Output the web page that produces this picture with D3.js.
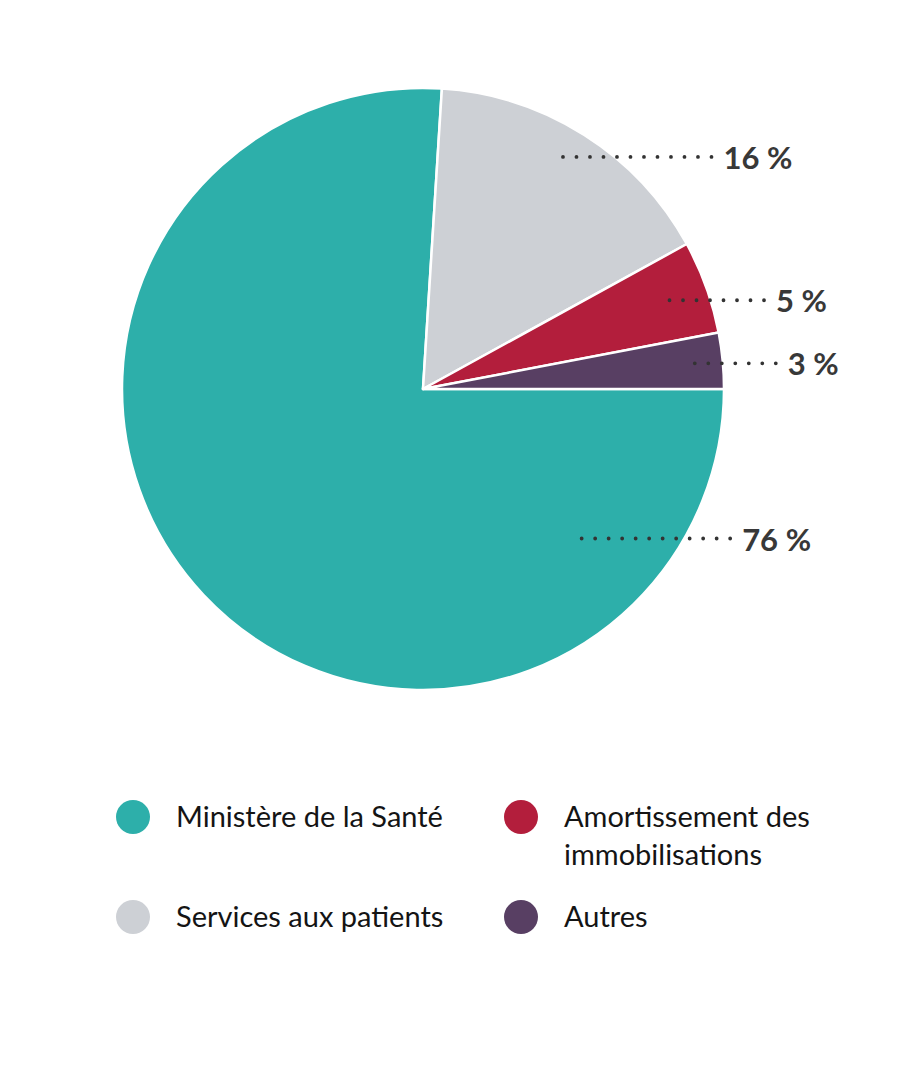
<!DOCTYPE html>
<html>
<head>
<meta charset="utf-8">
<script src="https://cdnjs.cloudflare.com/ajax/libs/d3/7.8.5/d3.min.js"></script>
<style>
  body { margin: 0; background: #fff; }
  svg { display: block; font-family: Lato, "Noto Sans", sans-serif; }
</style>
</head>
<body>
<svg width="900" height="1066"></svg>
<script>
// data
const categories = ["Ministère de la Santé", "Services aux patients", "Amortissement des immobilisations", "Autres"];
const values = [76, 16, 5, 3];
const labels = ["76 %", "16 %", "5 %", "3 %"];
const colors = ["#2dafaa", "#cdd0d5", "#b31e3c", "#583f63"];

const svg = d3.select("svg");
const cx = 423, cy = 389, radius = 301;

// label layout: anchor angle (deg, null = slice middle), anchor radius, dotted length
const labelLayout = [
  { angle: 133.3, r: 218, len: 148.5 },
  { angle: 31.1, r: 271, len: 148.5 },
  { angle: null, r: 262, len: 94.5 },
  { angle: null, r: 273, len: 81 }
];

const pie = d3.pie()
  .sort(null)
  .value(d => d)
  .startAngle(Math.PI / 2)
  .endAngle(Math.PI / 2 + 2 * Math.PI);

const arcs = pie(values);
const arc = d3.arc().innerRadius(0).outerRadius(radius);

const g = svg.append("g").attr("transform", `translate(${cx},${cy})`);

g.selectAll("path")
  .data(arcs)
  .join("path")
  .attr("d", arc)
  .attr("fill", (d, i) => colors[i])
  .attr("stroke", "#fff")
  .attr("stroke-width", 2.5)
  .attr("stroke-linejoin", "round");

// dotted leaders + labels
g.selectAll("g.lab")
  .data(arcs)
  .join("g")
  .attr("class", "lab")
  .each(function (d, i) {
    const lay = labelLayout[i];
    const a = lay.angle == null ? (d.startAngle + d.endAngle) / 2 : lay.angle * Math.PI / 180;
    const x0 = lay.r * Math.sin(a);
    const y0 = -lay.r * Math.cos(a);
    const sel = d3.select(this);
    sel.append("line")
      .attr("x1", x0).attr("y1", y0)
      .attr("x2", x0 + lay.len + 0.5).attr("y2", y0)
      .attr("stroke", "#333")
      .attr("stroke-width", 3.8)
      .attr("stroke-linecap", "round")
      .attr("stroke-dasharray", "0 13.5");
    sel.append("text")
      .attr("x", x0 + lay.len + 12)
      .attr("y", y0 + 12)
      .attr("fill", "#383838")
      .attr("font-weight", 700)
      .attr("font-size", 31)
      .text(labels[i]);
  });

// legend
const legendPos = [
  { x: 133, y: 817 },
  { x: 133, y: 917 },
  { x: 521, y: 817 },
  { x: 521, y: 917 }
];
const legendLines = [
  ["Ministère de la Santé"],
  ["Services aux patients"],
  ["Amortissement des", "immobilisations"],
  ["Autres"]
];

const leg = svg.selectAll("g.leg")
  .data(categories)
  .join("g")
  .attr("class", "leg")
  .attr("transform", (d, i) => `translate(${legendPos[i].x},${legendPos[i].y})`);

leg.append("circle")
  .attr("r", 17)
  .attr("fill", (d, i) => colors[i]);

leg.append("text")
  .attr("x", 43)
  .attr("y", 10)
  .attr("font-size", 29)
  .attr("fill", "#141414")
  .selectAll("tspan")
  .data((d, i) => legendLines[i])
  .join("tspan")
  .attr("x", 43)
  .attr("dy", (d, j) => j === 0 ? 0 : 38)
  .text(d => d);
</script>
</body>
</html>
